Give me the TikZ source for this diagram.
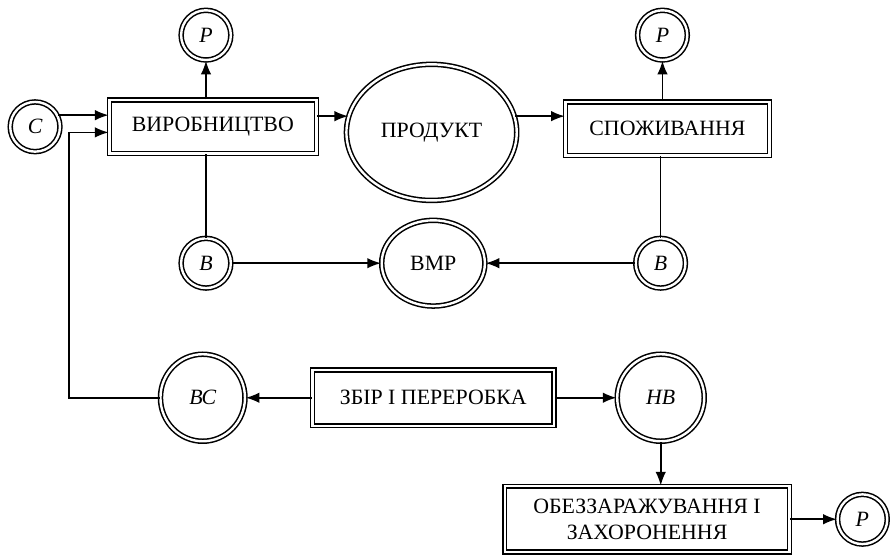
\documentclass[tikz,border=0pt]{standalone}
\usepackage{fontspec}
\setmainfont{Liberation Serif}
\usetikzlibrary{shapes,shapes.geometric,arrows.meta,positioning,calc}
\tikzset{
  % Process box: caps label, double border
  pbox/.style={draw, rectangle, double, double distance=1.1pt, line width=0.7pt,
               minimum height=8.6mm, align=center, font=\normalsize},
  % Flow circle: italic letter inside, double border
  pcirc/.style={draw, circle, double, double distance=1.1pt, line width=0.7pt,
                minimum size=8mm, inner sep=0pt, font=\itshape},
  % Large oval
  poval/.style={draw, ellipse, double, double distance=1.1pt, line width=0.7pt,
                inner sep=0pt},
  % Arrows
  flowarr/.style={-{Latex[length=2.2mm,width=1.7mm]}, line width=0.75pt},
  flowline/.style={line width=0.75pt}
}
\begin{document}
\begin{tikzpicture}

% ============== Top row: production -> product -> consumption ==============
\node[pbox, minimum width=33.3mm] (vyr) at (0,0) {ВИРОБНИЦТВО};
\node[pcirc, left=7.7mm of vyr] (C) {С};
\node[pcirc, above=6.2mm of vyr, xshift=-1.1mm] (P1) {Р};

\node[poval, right=4.6mm of vyr, yshift=-0.9mm, minimum width=27.4mm, minimum height=21.9mm] (prod) {ПРОДУКТ};
\node[pbox, right=7.6mm of prod, yshift=0.6mm, minimum width=32.8mm] (spoz) {СПОЖИВАННЯ};
\node[pcirc, xshift=-0.8mm] (P2) at (P1 -| spoz) {Р};

\draw[flowarr] (C.27) -- (C.27 -| vyr.west);
\draw[flowarr] (vyr.north -| P1) -- (P1.south);
\draw[flowarr] (vyr.east |- prod.169) -- (prod.169);
\draw[flowarr] (prod.11) -- (prod.11 -| spoz.west);
\draw[flowarr] (spoz.north -| P2) -- (P2.south);

% ============== Middle row: wastes -> ВМР ==============
\node[pcirc, below=13.4mm of vyr, xshift=-1.1mm] (B1) {В};
\node[pcirc, xshift=-1.1mm] (B2) at (B1 -| spoz) {В};
\node[poval, minimum width=16.6mm, minimum height=13.8mm] (vmr) at ($(B1)!0.5!(B2)$) {ВМР};

\draw[flowline] (vyr.south -| B1) -- (B1.north);
\draw[flowline] (spoz.south -| B2) -- (B2.north);
\draw[flowarr] (B1.east) -- (vmr.west);
\draw[flowarr] (B2.west) -- (vmr.east);

% ============== Bottom: collection and processing ==============
\node[pbox, below=10mm of vmr, minimum width=38.9mm, minimum height=9mm] (zbir) {ЗБІР І ПЕРЕРОБКА};
\node[poval, left=10.6mm of zbir, minimum width=13.6mm, minimum height=14mm] (BC) {\itshape ВС};
\node[poval, right=9.9mm of zbir, minimum width=14mm, minimum height=14mm] (HB) {\itshape НВ};
\node[pbox, below=7mm of HB, xshift=-2.2mm, minimum width=45.8mm, minimum height=10.6mm] (obez)
  {ОБЕЗЗАРАЖУВАННЯ І\\ЗАХОРОНЕННЯ};
\node[pcirc, right=7.5mm of obez] (P3) {Р};

\draw[flowarr] (zbir.west) -- (BC.east);
\draw[flowarr] (zbir.east) -- (HB.west);
\draw[flowarr] (HB.south) -- (HB.south |- obez.north);
\draw[flowarr] (obez.east) -- (P3.west);

% Secondary raw material returns to production, column left of the box
\coordinate (fbin) at ($(vyr.west)+(0,-0.9mm)$);
\draw[flowarr] (BC.west) -| ($(fbin)+(-6.4mm,0)$) -- (fbin);

\useasboundingbox (-34.24mm,20.4mm) rectangle (108.16mm,-68.4mm);
\end{tikzpicture}
\end{document}
